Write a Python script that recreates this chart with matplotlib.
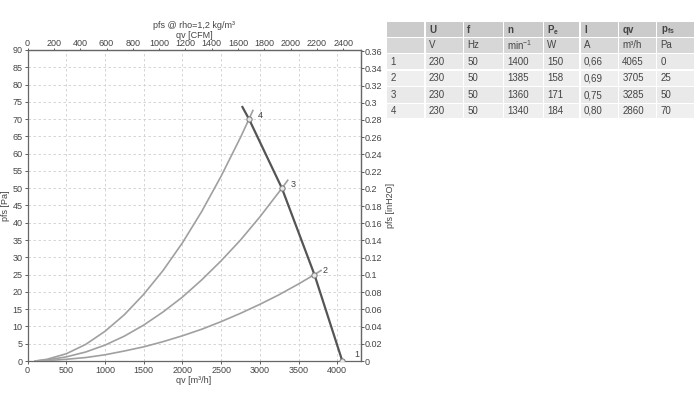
import matplotlib
matplotlib.use("Agg")
import matplotlib.pyplot as plt
from matplotlib.patches import Rectangle

plt.rcParams["font.family"] = ["Liberation Sans Narrow", "Liberation Sans", "DejaVu Sans"]

# operating points (from the table / chart)
op_qv = [4065, 3705, 3285, 2860]
op_pfs = [0, 25, 50, 70]
op_labels = ["1", "2", "3", "4"]

# fan curve
fan_qv = [2775, 2860, 3285, 3705, 4065]
fan_pfs = [73.5, 70, 50, 25, 0]

# system curves
sys2_qv = [100, 250, 500, 750, 1000, 1250, 1500, 1750, 2000, 2250, 2500, 2750, 3000, 3250, 3500, 3705, 3790]
sys2_pfs = [0.0, 0.1, 0.5, 1.0, 1.8, 2.9, 4.1, 5.6, 7.3, 9.2, 11.4, 13.8, 16.4, 19.2, 22.3, 25.0, 26.2]
sys3_qv = [100, 250, 500, 750, 1000, 1250, 1500, 1750, 2000, 2250, 2500, 2750, 3000, 3285, 3360]
sys3_pfs = [0.0, 0.3, 1.2, 2.6, 4.6, 7.2, 10.4, 14.2, 18.5, 23.5, 29.0, 35.0, 41.7, 50.0, 52.3]
sys4_qv = [100, 250, 500, 750, 1000, 1250, 1500, 1750, 2000, 2250, 2500, 2750, 2860, 2910]
sys4_pfs = [0.0, 0.5, 2.1, 4.8, 8.6, 13.4, 19.3, 26.2, 34.2, 43.3, 53.5, 64.7, 70.0, 72.5]

# table
col_heads = ["", "U", "f", "n", "P$_\\mathregular{e}$", "I", "qv", "p$_\\mathregular{fs}$"]
col_units = ["", "V", "Hz", "min$^{\\mathregular{-1}}$", "W", "A", "m³/h", "Pa"]
tab_rows = [
    ["1", "230", "50", "1400", "150", "0,66", "4065", "0"],
    ["2", "230", "50", "1385", "158", "0,69", "3705", "25"],
    ["3", "230", "50", "1360", "171", "0,75", "3285", "50"],
    ["4", "230", "50", "1340", "184", "0,80", "2860", "70"],
]

PA_PER_INH2O = 249.089
M3H_PER_CFM = 1.699

txt = "#444444"
fs = 6.5
fig = plt.figure(figsize=(7, 3.93), dpi=100)
ax = fig.add_axes([0.0394, 0.0814, 0.4756, 0.7914])

for q, p in [(sys2_qv, sys2_pfs), (sys3_qv, sys3_pfs), (sys4_qv, sys4_pfs)]:
    ax.plot(q, p, color="#a0a0a0", lw=1.2, zorder=3, solid_joinstyle="round")
ax.plot(fan_qv, fan_pfs, color="#555555", lw=1.6, zorder=4)
ax.plot(op_qv, op_pfs, ls="none", marker="o", ms=3.8, mfc="#e6e6e6",
        mec="#777777", mew=0.7, zorder=5)
for q, p, lab in zip(op_qv, op_pfs, op_labels):
    off = (9, 3) if lab == "1" else (6, 1)
    ax.annotate(lab, (q, p), xytext=off, textcoords="offset points",
                fontsize=fs, color=txt)

ax.set_xlim(0, 4300)
ax.set_ylim(0, 90)
ax.set_xticks(range(0, 4001, 500))
ax.set_yticks(range(0, 91, 5))
ax.grid(True, ls=(0, (3, 3)), color="#cfcfcf", lw=0.6)
ax.tick_params(labelsize=fs, colors=txt, length=2, width=0.6, pad=1.5)
for s in ax.spines.values():
    s.set_color("#666666")
    s.set_linewidth(0.9)
ax.set_xlabel("qv [m³/h]", fontsize=fs, color=txt, labelpad=1)
ax.set_ylabel("pfs [Pa]", fontsize=fs, color=txt)
ax.yaxis.set_label_coords(-0.052, 0.5)

top = ax.secondary_xaxis("top", functions=(lambda x: x / M3H_PER_CFM,
                                            lambda x: x * M3H_PER_CFM))
top.set_xticks(range(0, 2401, 200))
top.tick_params(labelsize=fs, colors=txt, length=1.5, width=0.6, pad=0)
top.set_xlabel("qv [CFM]", fontsize=fs, color=txt, labelpad=0.5)
ax.set_title("pfs @ rho=1,2 kg/m³", fontsize=fs, color=txt, pad=16)

right = ax.secondary_yaxis("right", functions=(lambda y: y / PA_PER_INH2O,
                                                lambda y: y * PA_PER_INH2O))
right.set_yticks([i * 0.02 for i in range(19)])
right.set_yticklabels([f"{i * 0.02:g}" for i in range(19)])
right.tick_params(labelsize=fs, colors=txt, length=2, width=0.6, pad=1)
right.set_ylabel("pfs [inH2O]", fontsize=fs, color=txt, rotation=90, labelpad=3)

# table drawn in pixel coordinates
col_x = [386.7, 425, 463.3, 503.3, 543.3, 580, 618.3, 656.7, 695]
row_y = [21.7, 37.7, 53.3, 70, 86.7, 103.3, 118.3]
tax = fig.add_axes([0, 0, 1, 1])
tax.set_xlim(0, 700)
tax.set_ylim(393, 0)
tax.axis("off")
all_rows = [col_heads, col_units] + tab_rows
fills = ["#cbcbcb", "#d7d7d7", "#e9e9e9", "#efefef", "#e9e9e9", "#efefef"]
for r, row in enumerate(all_rows):
    y0, y1 = row_y[r], row_y[r + 1]
    for c, val in enumerate(row):
        x0, x1 = col_x[c], col_x[c + 1]
        tax.add_patch(Rectangle((x0 + 0.6, y0 + 0.6), x1 - x0 - 1.2, y1 - y0 - 1.2,
                                facecolor=fills[r], edgecolor="none"))
        tax.text(x0 + 4, (y0 + y1) / 2, val, fontsize=7, color=txt,
                 va="center", ha="left",
                 fontweight="bold" if r == 0 else "normal")

fig.savefig("out.png", dpi=100)
